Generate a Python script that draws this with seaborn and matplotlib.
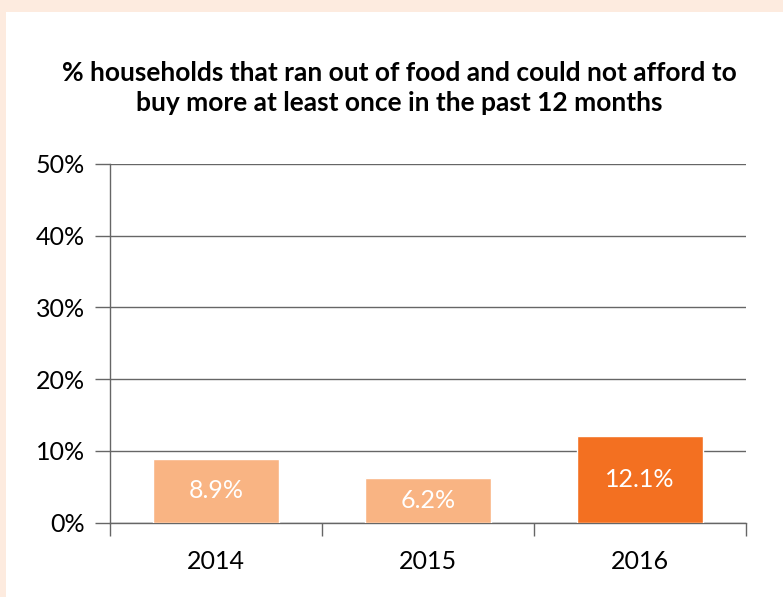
import matplotlib
matplotlib.use("Agg")
import matplotlib.pyplot as plt
import matplotlib.patches as mpatches
import seaborn as sns
import pandas as pd
from matplotlib.ticker import FuncFormatter, FixedLocator

years = ["2014", "2015", "2016"]
shares = [0.089, 0.062, 0.121]
value_labels = ["8.9%", "6.2%", "12.1%"]
bar_colors = ["#F9B483", "#F9B483", "#F37021"]
y_ticks = [0.0, 0.1, 0.2, 0.3, 0.4, 0.5]
title = "% households that ran out of food and could not afford to\nbuy more at least once in the past 12 months"

sns.set_theme(style="white")
plt.rcParams["font.family"] = ["Lato", "DejaVu Sans"]

W, H = 783, 597
fig = plt.figure(figsize=(W / 100, H / 100), dpi=100, facecolor="#FDEBDF")
# white panel framed by a thin peach band along the top and left edge
fig.patches.append(mpatches.Rectangle((6 / W, 0), 1 - 6 / W, (H - 12) / H,
                                      transform=fig.transFigure,
                                      facecolor="white", edgecolor="none", zorder=-5))

ax = fig.add_axes([110 / W, 1 - 522.7 / H, (746 - 110) / W, (522.7 - 164) / H])
ax.set_zorder(2)
ax.set_facecolor("white")

df = pd.DataFrame({"year": years, "share": shares})
sns.barplot(data=df, x="year", y="share", hue="year", palette=bar_colors,
            legend=False, width=0.59, saturation=1, ax=ax, zorder=3)

for i, (v, lab) in enumerate(zip(shares, value_labels)):
    ax.text(i, v / 2, lab, ha="center", va="center", color="white",
            fontsize=18, zorder=4)

grid_color = "#666666"
ax.set_ylim(0, 0.5)
ax.set_xlim(-0.5, 2.5)
ax.yaxis.set_major_locator(FixedLocator(y_ticks))
ax.yaxis.set_major_formatter(FuncFormatter(lambda v, _: f"{v * 100:.0f}%"))
ax.grid(axis="y", color=grid_color, linewidth=1.0, zorder=1)
ax.set_axisbelow(True)

for side in ["top", "right"]:
    ax.spines[side].set_visible(False)
for side in ["left", "bottom"]:
    ax.spines[side].set_color(grid_color)
    ax.spines[side].set_linewidth(1.0)

ax.tick_params(axis="y", which="major", length=11, width=1.0, color=grid_color,
               direction="out", labelsize=18, labelcolor="black", pad=7, left=True)
# category boundaries carry the x tick marks, labels sit at the centres
ax.xaxis.set_minor_locator(FixedLocator([-0.5, 0.5, 1.5, 2.5]))
ax.tick_params(axis="x", which="minor", length=9, width=1.0, color=grid_color,
               direction="out", bottom=True)
ax.tick_params(axis="x", which="major", length=0, labelsize=18,
               labelcolor="black", pad=20)
ax.set_xlabel("")
ax.set_ylabel("")

fig.text(0.51, 1 - 88 / H, title, ha="center", va="center", fontsize=19,
         fontweight="bold", color="black", linespacing=1.32)

fig.savefig("out.png", dpi=100, facecolor=fig.get_facecolor())
